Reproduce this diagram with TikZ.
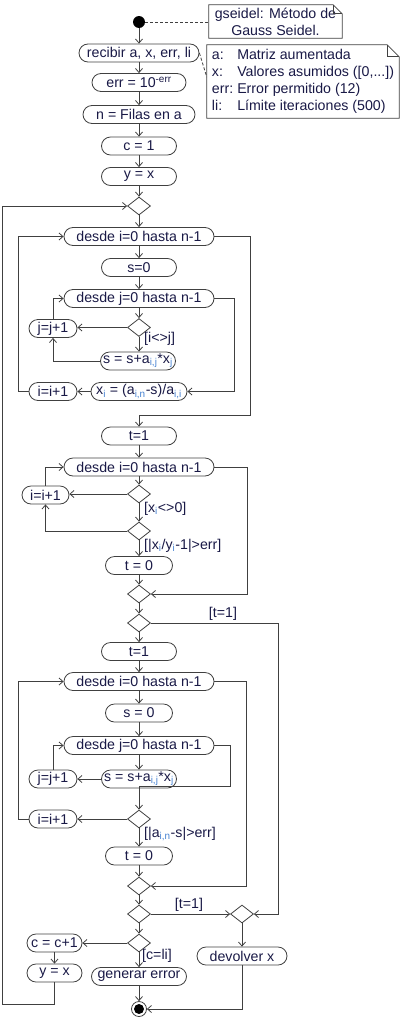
\documentclass[tikz,border=0pt]{standalone}
\usepackage{fontspec}
\setmainfont{Liberation Sans}
\usetikzlibrary{positioning,arrows.meta,calc,shapes.geometric}
\definecolor{linec}{RGB}{64,64,64}
\definecolor{txt}{RGB}{25,25,70}
\definecolor{subc}{RGB}{70,130,210}
\newcommand\sbs[1]{\textsubscript{\color{subc}#1}}
% nota con esquina doblada
\newcommand\notebox[2]{%
  \draw[linec, line width=0.8pt] (#1.north west) -- ($(#1.north east)+(-#2,0)$)
    -- ($(#1.north east)+(0,#2)$) -- (#1.south east) -- (#1.south west) -- cycle;
  \draw[linec, line width=0.8pt] ($(#1.north east)+(-#2,0)$) |- ($(#1.north east)+(0,#2)$);}
\begin{document}
\begin{tikzpicture}[x=1pt, y=-1pt, >={Straight Barb[length=4pt,width=7pt]},
                  every node/.style={font=\fontsize{14.2}{17}\selectfont, text=txt},
                  act/.style={draw=linec, line width=0.8pt, rectangle, rounded corners=9pt,
                              minimum height=18pt, inner sep=1pt},
                  merge/.style={draw=linec, line width=0.8pt, diamond, minimum width=23pt,
                                minimum height=18pt, inner sep=0pt},
                  guard/.style={anchor=west, inner sep=0pt},
                  flow/.style={draw=linec, line width=0.8pt, ->},
                  link/.style={draw=linec, line width=0.8pt, dash pattern=on 3pt off 2pt}]
    \useasboundingbox (0,0) rectangle (404,1020);
    % inicio y notas
    \node[circle, fill=black, minimum size=12pt, inner sep=0pt] (start) at (139,22) {};
    \node[minimum width=133pt, minimum height=33pt, inner sep=0pt, align=center] (note1) at (275.5,21.5)
      {gseidel: Método de\\Gauss Seidel.};
    \node[minimum width=192pt, minimum height=73pt, inner sep=0pt] (note2) at (303,81.5)
      {\begin{tabular}{@{}l@{\hspace{4pt}}l@{}}
        a: & Matriz aumentada\\
        x: & Valores asumidos ([0,...])\\
        err: & Error permitido (12)\\
        li: & Límite iteraciones (500)
      \end{tabular}};
    \notebox{note1}{9}
    \notebox{note2}{12}
    \node[act, minimum width=120pt] (recibir) at (139,53) {recibir a, x, err, li};
    \node[act, minimum width=94pt] (err) at (139,82.5) {err = 10\textsuperscript{-err}};
    \node[act, minimum width=112pt] (filas) at (139,114.5) {n = Filas en a};
    \node[act, minimum width=75pt] (cini) at (139,146) {c = 1};
    \node[act, minimum width=75pt] (yini) at (139,176.5) {y = x};
    \node[merge] (m1) at (139,206) {};
    % primer bloque
    \node[act, minimum width=150pt] (desdei1) at (139,236.5) {desde i=0 hasta n-1};
    \node[act, minimum width=75pt] (s01) at (139,267.5) {s=0};
    \node[act, minimum width=150pt] (desdej1) at (139,298.5) {desde j=0 hasta n-1};
    \node[merge] (d1) at (139,327.5) {};
    \node[act, minimum width=48pt] (jinc1) at (53,328.5) {j=j+1};
    \node[act, minimum width=75pt] (sacc1) at (138,361) {s = s+a\sbs{i,j}*x\sbs{j}};
    \node[act, minimum width=96pt] (xi) at (139,391.5) {x\sbs{i} = (a\sbs{i,n}-s)/a\sbs{i,i}};
    \node[act, minimum width=48pt] (iinc1) at (53,391.5) {i=i+1};
    \node[guard] (gij) at (144,339) {[i<>j]};
    % segundo bloque
    \node[act, minimum width=75pt] (t11) at (139,436) {t=1};
    \node[act, minimum width=150pt] (desdei2) at (139,467) {desde i=0 hasta n-1};
    \node[merge] (d2) at (139,494) {};
    \node[act, minimum width=47pt] (iinc2) at (45.5,495) {i=i+1};
    \node[merge] (d3) at (139,531) {};
    \node[act, minimum width=67pt] (t01) at (139,565.5) {t = 0};
    \node[merge] (m2) at (139,594) {};
    \node[merge] (d4) at (139,623) {};
    \node[guard] (gx) at (144,509) {[x\sbs{i}<>0]};
    \node[guard] (gerr1) at (144,546) {[|x\sbs{i}/y\sbs{i}-1|>err]};
    \node[guard, anchor=center] (gt1) at (223,614) {[t=1]};
    % tercer bloque
    \node[act, minimum width=75pt] (t12) at (139,651.5) {t=1};
    \node[act, minimum width=150pt] (desdei3) at (139,681.5) {desde i=0 hasta n-1};
    \node[act, minimum width=67pt] (s03) at (139,713) {s = 0};
    \node[act, minimum width=150pt] (desdej3) at (139,745.5) {desde j=0 hasta n-1};
    \node[act, minimum width=75pt] (sacc3) at (139,779) {s = s+a\sbs{i,j}*x\sbs{j}};
    \node[act, minimum width=48pt] (jinc3) at (53,779) {j=j+1};
    \node[merge] (d5) at (139,819) {};
    \node[act, minimum width=48pt] (iinc3) at (53,819) {i=i+1};
    \node[guard] (gerr2) at (144,834) {[|a\sbs{i,n}-s|>err]};
    \node[act, minimum width=67pt] (t02) at (139,856) {t = 0};
    \node[merge] (m3) at (139,886) {};
    \node[merge] (d6) at (139,914) {};
    \node[merge] (m4) at (242,914) {};
    \node[guard, anchor=center] (gt2) at (189,905) {[t=1]};
    \node[act, minimum width=90pt] (devolver) at (242,956) {devolver x};
    \node[merge] (d7) at (139,943) {};
    \node[act, minimum width=55pt] (cinc) at (54.5,943) {c = c+1};
    \node[act, minimum width=55pt] (yx) at (54.5,973) {y = x};
    \node[guard] (gli) at (142,956) {[c=li]};
    \node[act, minimum width=95pt] (generr) at (139,976.5) {generar error};
    \node[circle, draw=linec, line width=0.8pt, minimum size=15pt, inner sep=0pt] (stop) at (139,1009) {};
    \fill (stop.center) circle (5pt);
    % conectores
    \draw[link] (start.east) -- (start.east -| note1.west);
    \draw[link] (recibir.east) -- ($(note2.north west)!0.44!(note2.south west)$);
    \draw[flow] (start) -- (recibir);
    \draw[flow] (recibir) -- (err);
    \draw[flow] (err) -- (filas);
    \draw[flow] (filas) -- (cini);
    \draw[flow] (cini) -- (yini);
    \draw[flow] (yini) -- (m1);
    \draw[flow] (m1) -- (desdei1);
    \draw[flow] (desdei1) -- (s01);
    \draw[flow] (s01) -- (desdej1);
    \draw[flow] (desdej1) -- (d1);
    \draw[flow] (d1.west) -- (jinc1.east |- d1.west);
    \draw[flow] (d1) -- (sacc1.north -| d1);
    \draw[flow] (sacc1.west) -| (jinc1.south);
    \draw[flow] (jinc1.north) |- (desdej1.west);
    \draw[flow] (desdej1.east) -- ++(20,0) |- (xi.east);
    \draw[flow] (xi.west) -- (iinc1.east);
    \draw[flow] (iinc1.west) -- ++(-10,0) |- (desdei1.west);
    \draw[flow] (desdei1.east) -- ++(36,0) |- ($(t11.north)+(0,-11)$) -- (t11.north);
    \draw[flow] (t11) -- (desdei2);
    \draw[flow] (desdei2) -- (d2);
    \draw[flow] (d2.west) -- (iinc2.east |- d2.west);
    \draw[flow] (d2) -- (d3);
    \draw[flow] (d3.west) -| (iinc2.south);
    \draw[flow] (iinc2.north) |- (desdei2.west);
    \draw[flow] (d3) -- (t01);
    \draw[flow] (t01) -- (m2);
    \draw[flow] (desdei2.east) -- ++(33,0) |- (m2.east);
    \draw[flow] (m2) -- (d4);
    \draw[flow] (d4.east) -- ++(127,0) |- (m4.east);
    \draw[flow] (d4) -- (t12);
    \draw[flow] (t12) -- (desdei3);
    \draw[flow] (desdei3) -- (s03);
    \draw[flow] (s03) -- (desdej3);
    \draw[flow] (desdej3) -- (sacc3);
    \draw[flow] (sacc3.west) -- (jinc3.east);
    \draw[flow] (jinc3.north) |- (desdej3.west);
    \draw[flow] (desdej3.east) -- ++(16,0) |- ($(d5.north)+(0,-23)$) -- (d5.north);
    \draw[flow] (d5.west) -- (iinc3.east);
    \draw[flow] (iinc3.west) -- ++(-10,0) |- (desdei3.west);
    \draw[flow] (d5) -- (t02);
    \draw[flow] (t02) -- (m3);
    \draw[flow] (desdei3.east) -- ++(32,0) |- (m3.east);
    \draw[flow] (m3) -- (d6);
    \draw[flow] (d6.east) -- (m4.west);
    \draw[flow] (m4) -- (devolver);
    \draw[flow] (d6) -- (d7);
    \draw[flow] (d7.west) -- (cinc.east);
    \draw[flow] (d7) -- (generr);
    \draw[flow] (cinc) -- (yx);
    \draw[flow] (generr) -- (stop);
    \draw[flow] (devolver.south) |- (stop.east);
    \draw[flow] (yx.south) -- ++(0,22) -| ($(m1.west)+(-125,0)$) -- (m1.west);
  \end{tikzpicture}
\end{document}
